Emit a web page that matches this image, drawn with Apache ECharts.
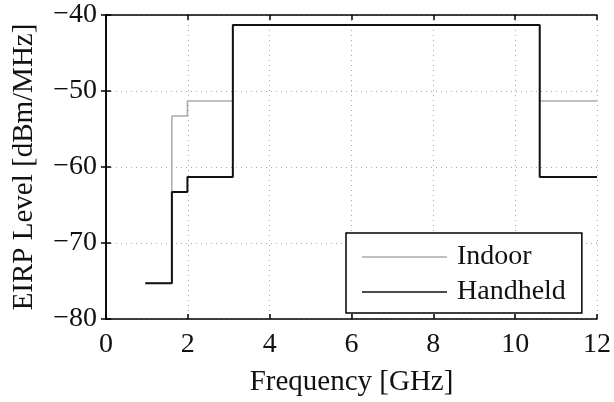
<!DOCTYPE html>
<html>
<head>
<meta charset="utf-8">
<script src="https://cdn.jsdelivr.net/npm/echarts@6/dist/echarts.min.js"></script>
<style>
  html, body { margin: 0; padding: 0; background: #fff; }
  #chart { width: 614px; height: 402px; }
</style>
</head>
<body>
<div id="chart"></div>
<script>
// FCC UWB emission mask, breakpoints in GHz and levels in dBm/MHz
var freqEdges = [0.96, 1.61, 1.99, 3.1, 10.6, 12];
var indoorLevels = [-75.3, -53.3, -51.3, -41.3, -51.3, -51.3];
var handheldLevels = [-75.3, -63.3, -61.3, -41.3, -61.3, -61.3];
var xTicks = [0, 2, 4, 6, 8, 10, 12];
var yTicks = [-80, -70, -60, -50, -40];

function pairs(xs, ys) {
  return xs.map(function (x, i) { return [x, ys[i]]; });
}

var font = 'Liberation Serif';
var fs = 28;
var chart = echarts.init(document.getElementById('chart'));

var gridLine = { show: true, lineStyle: { color: '#aaa', type: [1, 4], width: 1 } };
var axisLine = { show: true, lineStyle: { color: '#000', width: 1.5 } };
var tick = { show: true, inside: true, length: 5, lineStyle: { color: '#000', width: 1.5 } };

chart.setOption({
  backgroundColor: '#fff',
  animation: false,
  grid: { left: 106, right: 17, top: 15, bottom: 76 },
  legend: {
    left: 346,
    top: 233,
    orient: 'vertical',
    backgroundColor: '#fff',
    borderColor: '#000',
    borderWidth: 1.5,
    padding: [9, 16, 6, 16],
    icon: 'rect',
    itemWidth: 85,
    itemHeight: 1.5,
    itemGap: 5,
    textStyle: { fontFamily: font, fontSize: fs, color: '#111', lineHeight: 30, padding: [0, 0, 0, 5] },
    data: ['Indoor', 'Handheld']
  },
  xAxis: [{
    type: 'value',
    min: xTicks[0],
    max: xTicks[xTicks.length - 1],
    interval: 2,
    name: 'Frequency [GHz]',
    nameLocation: 'middle',
    nameGap: 49,
    nameTextStyle: { fontFamily: font, fontSize: 29, color: '#111' },
    axisLine: axisLine,
    axisTick: tick,
    axisLabel: { fontFamily: font, fontSize: fs, color: '#111', margin: 12 },
    splitLine: gridLine
  }, {
    type: 'value',
    position: 'top',
    min: xTicks[0],
    max: xTicks[xTicks.length - 1],
    interval: 2,
    axisLine: axisLine,
    axisTick: tick,
    axisLabel: { show: false },
    splitLine: { show: false }
  }],
  yAxis: [{
    type: 'value',
    min: yTicks[0],
    max: yTicks[yTicks.length - 1],
    interval: 10,
    name: 'EIRP Level [dBm/MHz]',
    nameLocation: 'middle',
    nameGap: 67,
    nameTextStyle: { fontFamily: font, fontSize: 29, color: '#111' },
    axisLine: axisLine,
    axisTick: tick,
    axisLabel: {
      fontFamily: font, fontSize: fs, color: '#111', margin: 9,
      formatter: function (v) { return String(v).replace('-', '\u2212'); }
    },
    splitLine: gridLine
  }, {
    type: 'value',
    position: 'right',
    min: yTicks[0],
    max: yTicks[yTicks.length - 1],
    interval: 10,
    axisLine: axisLine,
    axisTick: tick,
    axisLabel: { show: false },
    splitLine: { show: false }
  }],
  series: [{
    name: 'Indoor',
    type: 'line',
    step: 'end',
    symbol: 'none',
    color: '#aaa',
    lineStyle: { color: '#aaa', width: 1.5 },
    data: pairs(freqEdges, indoorLevels),
    z: 2
  }, {
    name: 'Handheld',
    type: 'line',
    step: 'end',
    symbol: 'none',
    color: '#111',
    lineStyle: { color: '#111', width: 2 },
    data: pairs(freqEdges, handheldLevels),
    z: 3
  }]
});
</script>
</body>
</html>
